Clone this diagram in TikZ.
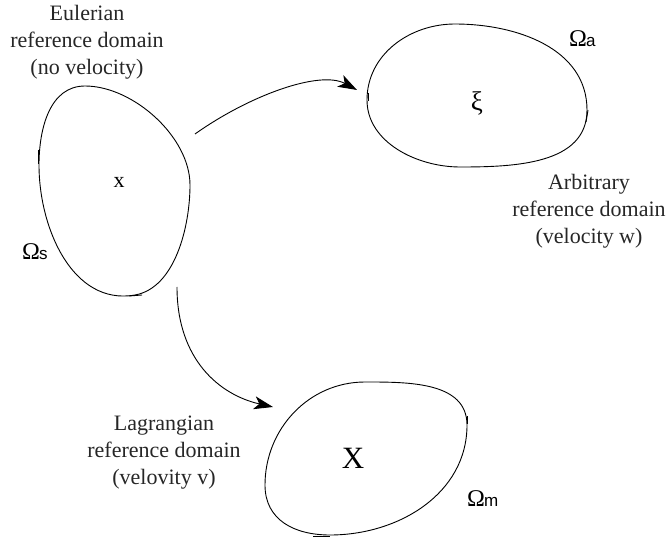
\documentclass[tikz,border=0pt]{standalone}
\usepackage{fontspec}
\setmainfont{Liberation Serif}
\newfontfamily\subsans{Liberation Sans}
\usetikzlibrary{arrows.meta}
\begin{document}
\begin{tikzpicture}[x=1pt,y=-1pt,
  blobline/.style={line width=0.9pt},
  tick/.style={line width=0.9pt},
  desc/.style={font=\fontsize{22}{27}\selectfont, align=center, inner sep=0pt, text=black!85},
  link/.style={line width=0.9pt, -{Stealth[length=19pt,width=13pt,inset=5pt]}},
  omega/.style={font=\fontsize{24}{27}\selectfont, inner sep=0pt, anchor=base west},
  sym/.style={inner sep=0pt}]
\useasboundingbox (0,0) rectangle (667,540);

% Eulerian domain (Omega_s)
\draw[blobline] (85,86) to[out=0,in=90,looseness=0.85] (190,185)
  to[out=-90,in=10,looseness=0.85] (135,295)
  to[out=190,in=-90] (39,165)
  to[out=90,in=180] cycle;
\draw[tick] (129,296) -- (142,295);
\draw[tick] (38,150) -- (38,164);
% Arbitrary domain (Omega_a)
\draw[blobline] (367,100) to[out=90,in=180] (455,24)
  to[out=0,in=90] (587,110)
  to[out=-90,in=0] (460,167)
  to[out=180,in=-90,looseness=0.95] cycle;
\draw[tick] (588,110) -- (586,122);
\draw[tick] (368,93) -- (368,101);
% Lagrangian domain (Omega_m)
\draw[blobline] (265,485) to[out=90,in=180] (365,382)
  to[out=0,in=90] (467,425)
  to[out=-90,in=0] (330,535)
  to[out=180,in=-90,looseness=1.1] cycle;
\draw[tick] (467,416) -- (467,424);
\draw[tick] (313,536) -- (330,536);

% labels
\node[desc] (eul) at (87,42) {Eulerian\\reference domain\\(no velocity)};
\node[desc] (arb) at (589,211) {Arbitrary\\reference domain\\(velocity w)};
\node[desc] (lag) at (164,453) {Lagrangian\\reference domain\\(velovity v)};

\node[sym, font=\fontsize{22}{22}\selectfont] (x) at (119,182) {x};
\node[sym, font=\fontsize{27}{27}\selectfont] (xi) at (477,103) {ξ};
\node[sym, font=\fontsize{31}{31}\selectfont] (X) at (353,458) {X};

\node[omega] (os) at (22,260) {Ω\kern-1pt{\subsans\fontsize{17}{17}\selectfont s}};
\node[omega] (oa) at (569,47) {Ω\kern-1pt{\subsans\fontsize{17}{17}\selectfont a}};
\node[omega] (om) at (467,506) {Ω\kern-1pt{\subsans\fontsize{17}{17}\selectfont m}};

% connectors
\coordinate (s1) at (195,134);
\coordinate (e1) at (357,90);
\coordinate (s2) at (177,287);
\coordinate (e2) at (273,407);
\draw[link] (s1) .. controls (250,95) and (320,70) .. (e1);
\draw[link] (s2) .. controls (177,360) and (220,395) .. (e2);
\end{tikzpicture}
\end{document}
